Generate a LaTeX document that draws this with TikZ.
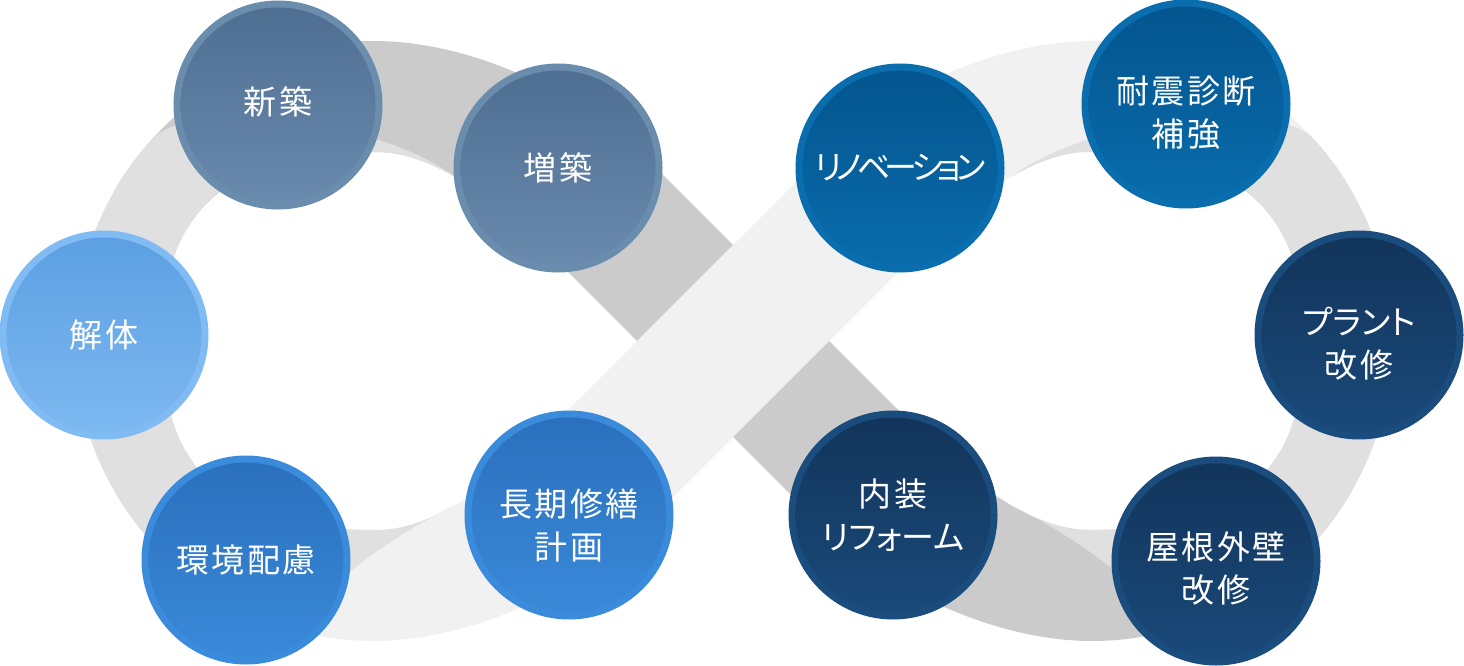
\documentclass[tikz,border=0pt]{standalone}
\usepackage{fontspec}
\newfontfamily\jp[RawFeature=+palt,LetterSpace=8]{Noto Sans CJK JP}
\newfontfamily\jpk[RawFeature=+palt]{Noto Sans CJK JP}
\newfontfamily\jpn[RawFeature=+palt,LetterSpace=-16]{Noto Sans CJK JP}
\definecolor{bandD}{HTML}{CBCBCB}
\definecolor{bandM}{HTML}{E0E0E0}
\definecolor{bandL}{HTML}{F1F1F1}
\definecolor{aR}{HTML}{6A8CAD}\definecolor{aT}{HTML}{4E6E91}\definecolor{aB}{HTML}{6A8BAE}
\definecolor{bR}{HTML}{80BBF3}\definecolor{bT}{HTML}{5B9FE2}\definecolor{bB}{HTML}{7EB9F1}
\definecolor{cR}{HTML}{3A8BDB}\definecolor{cT}{HTML}{2A6FBC}\definecolor{cB}{HTML}{3A8ADA}
\definecolor{dR}{HTML}{0A6EAE}\definecolor{dT}{HTML}{03548D}\definecolor{dB}{HTML}{0A6DAD}
\definecolor{eR}{HTML}{1B4C7E}\definecolor{eT}{HTML}{12345A}\definecolor{eB}{HTML}{1A4A7B}
\begin{document}
\begin{tikzpicture}[x=1pt,y=-1pt,
  bub/.style n args={3}{circle, minimum size=209pt, inner sep=0pt, fill=#1,
    path picture={\shade[top color=#2, bottom color=#3] (path picture bounding box.center) circle[radius=97.5pt];}},
  lbl/.style={text=white, align=center, inner sep=0pt, font=\jp\fontsize{33pt}{43pt}\selectfont}]
\useasboundingbox (0,0) rectangle (1464,666);
% dark ribbon: left loop top, crossing, right loop bottom
\fill[bandD] (186.7,229.4) -- (114.2,191) arc[start angle=-150, end angle=-90, radius=300]
  .. controls (480,41) and (590,102) .. (640,152) -- (906,418)
  .. controls (956,470) and (1026,530) .. (1089,530)
  .. controls (1186.5,530) and (1248.1,505.4) .. (1279.3,452.6) -- (1351.8,491)
  arc[start angle=30, end angle=90, radius=300]
  .. controls (986,641) and (876,580) .. (826,530) -- (560,264)
  .. controls (510,212) and (440,152) .. (377,152)
  .. controls (279.5,152) and (217.9,176.6) .. (186.7,229.4) -- cycle;
% light ribbon: left loop bottom, crossing, right loop top
\fill[bandL] (186.7,452.6) -- (114.2,491) arc[start angle=150, end angle=90, radius=300]
  .. controls (480,641) and (590,580) .. (640,530) -- (906,264)
  .. controls (956,212) and (1026,152) .. (1089,152)
  .. controls (1186.5,152) and (1248.1,176.6) .. (1279.3,229.4) -- (1351.8,191)
  arc[start angle=-30, end angle=-90, radius=300]
  .. controls (986,41) and (876,102) .. (826,152) -- (560,418)
  .. controls (510,470) and (440,530) .. (377,530)
  .. controls (279.5,530) and (217.9,505.4) .. (186.7,452.6) -- cycle;
% mid ribbon pieces (outer sides)
\fill[bandM] (151.1,140.3) .. controls (190,95) and (380,120) .. (454.2,176.4)
  .. controls (428.5,161.6) and (402.2,152) .. (377,152)
  .. controls (227,152) and (162,209) .. (162,341)
  .. controls (162,473) and (227,530) .. (377,530)
  .. controls (402.2,530) and (428.5,520.4) .. (454.2,505.6)
  .. controls (410,527) and (330,575) .. (296.4,630.8)
  arc[start angle=105, end angle=222, radius=300] -- cycle;
\fill[bandM] (1314.9,140.3) .. controls (1276,95) and (1086,120) .. (1011.8,176.4)
  .. controls (1037.5,161.6) and (1063.8,152) .. (1089,152)
  .. controls (1239,152) and (1304,209) .. (1304,341)
  .. controls (1304,473) and (1239,530) .. (1089,530)
  .. controls (1063.8,530) and (1037.5,520.4) .. (1011.8,505.6)
  .. controls (1056,527) and (1136,575) .. (1169.6,630.8)
  arc[start angle=75, end angle=-42, radius=300] -- cycle;
% circles
\node[bub={aR}{aT}{aB}] (shin) at (278,105) {};
\node[bub={aR}{aT}{aB}] (zou) at (558,168) {};
\node[bub={bR}{bT}{bB}] (kai) at (104,335) {};
\node[bub={cR}{cT}{cB}] (kan) at (246,560) {};
\node[bub={cR}{cT}{cB}] (cho) at (569,515) {};
\node[bub={dR}{dT}{dB}] (reno) at (900,168) {};
\node[bub={dR}{dT}{dB}] (tai) at (1186,104) {};
\node[bub={eR}{eT}{eB}] (pla) at (1359,335) {};
\node[bub={eR}{eT}{eB}] (nai) at (893,515) {};
\node[bub={eR}{eT}{eB}] (yane) at (1216,561) {};
% labels
\node[lbl] (tshin) at ([yshift=3pt]shin.center) {新築};
\node[lbl] (tzou) at (zou.center) {増築};
\node[lbl] (tkai) at (kai.center) {解体};
\node[lbl] (tkan) at (kan.center) {環境配慮};
\node[lbl] (tcho) at ([yshift=-10pt]cho.center) {長期修繕\\計画};
\node[lbl] (treno) at (reno.center) {{\jpn リノベーション}};
\node[lbl] (ttai) at ([yshift=-9pt]tai.center) {耐震診断\\補強};
\node[lbl] (tpla) at ([yshift=-9pt]pla.center) {{\jpk プラント}\\改修};
\node[lbl] (tnai) at (nai.center) {内装\\{\jpk リフォーム}};
\node[lbl] (tyane) at ([yshift=-8pt]yane.center) {屋根外壁\\改修};
\end{tikzpicture}
\end{document}
